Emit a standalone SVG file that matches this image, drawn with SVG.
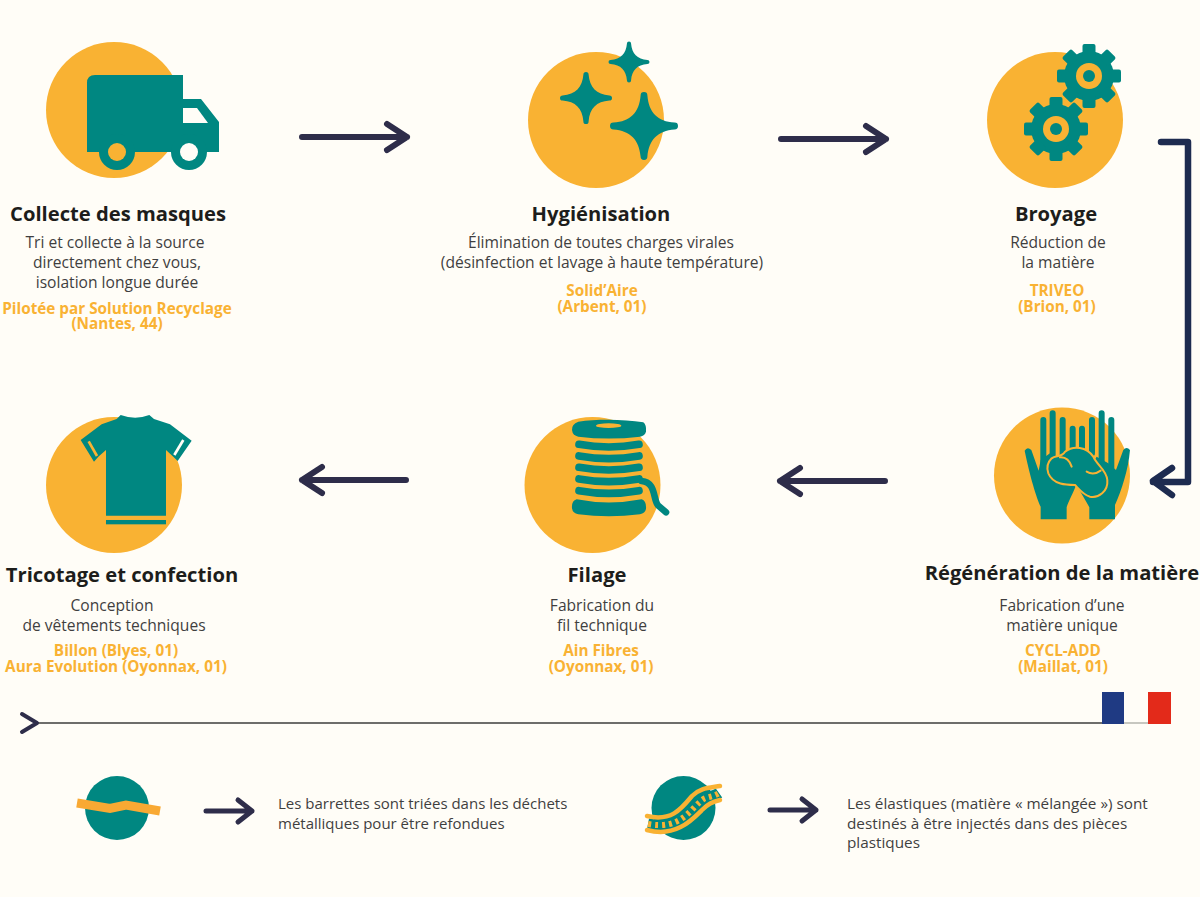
<svg xmlns="http://www.w3.org/2000/svg" xmlns:xlink="http://www.w3.org/1999/xlink" width="1200" height="897" viewBox="0 0 1200 897">
<style>
text{font-family:"Open Sans","Noto Sans","Liberation Sans",sans-serif;text-anchor:middle}
.t{font-size:20.200px;font-weight:700;fill:#1d1d1b}
.b{font-size:15.600px;fill:#3f3f3f}
.o{font-size:15.300px;font-weight:700;fill:#f9b233}
.n{font-size:15px;fill:#3f3f3f;text-anchor:start}
.m{font-size:15.300px;fill:#3f3f3f;text-anchor:start}
.c{fill:#f9b233}
.e{fill:#008781}
.a{fill:none;stroke:#2e2d4a;stroke-width:6;stroke-linecap:round;stroke-linejoin:round}
.a2{fill:none;stroke:#2e2d4a;stroke-width:5;stroke-linecap:round;stroke-linejoin:round}
</style>
<defs>
<path id="spark" class="e" d="M-10-90A10 10 0 0 1 10-90C14-40 40-14 90-10A10 10 0 0 1 90 10C40 14 14 40 10 90A10 10 0 0 1-10 90C-14 40-40 14-90 10A10 10 0 0 1-90-10C-40-14-14-40-10-90Z"/>
<g id="gear">
<circle class="e" r="25"/>
<g class="e">
<rect x="-6.500" y="-32" width="13" height="12" rx="2"/>
<rect x="-6.500" y="-32" width="13" height="12" rx="2" transform="rotate(45)"/>
<rect x="-6.500" y="-32" width="13" height="12" rx="2" transform="rotate(90)"/>
<rect x="-6.500" y="-32" width="13" height="12" rx="2" transform="rotate(135)"/>
<rect x="-6.500" y="-32" width="13" height="12" rx="2" transform="rotate(180)"/>
<rect x="-6.500" y="-32" width="13" height="12" rx="2" transform="rotate(225)"/>
<rect x="-6.500" y="-32" width="13" height="12" rx="2" transform="rotate(270)"/>
<rect x="-6.500" y="-32" width="13" height="12" rx="2" transform="rotate(315)"/>
</g>
<circle class="c" r="13"/>
<circle class="e" r="6"/>
</g>
<path id="coil" d="M207 0Q296 16 387 0" fill="none" stroke="#008781" stroke-width="23" stroke-linecap="round"/>
</defs>
<rect width="1200" height="897" fill="#fffdf7"/>

<g id="connectors">
<path class="a" d="M302 137H407M387 124L407 137L387 150"/>
<path class="a" d="M781 139H886M866 126L886 139L866 152"/>
<path d="M1161 142H1188V482H1153M1172 468L1153 481L1172 495" fill="none" stroke="#1d2b50" stroke-width="6.500" stroke-linecap="round" stroke-linejoin="round"/>
<path class="a" d="M885 481H780M800 468L780 481L800 494"/>
<path class="a" d="M406 480H302M322 467L302 480L322 493"/>
<path class="a2" d="M206 811H252M238 800L252 811L238 822"/>
<path class="a2" d="M770 810H816M802 799L816 810L802 821"/>
</g>

<g id="node-collecte">
<circle class="c" cx="114" cy="110" r="68"/>
<path class="e" d="M95 75H183V99H201L219 122V152H87V83Q87 75 95 75Z"/>
<path d="M183 108H197L208 123H183Z" fill="#fffdf7"/>
<circle class="e" cx="117" cy="152" r="18"/><circle class="c" cx="117" cy="152" r="9"/>
<circle class="e" cx="189" cy="152" r="18"/><circle cx="189" cy="152" r="9" fill="#fffdf7"/>
<text class="t" x="118" y="221">Collecte des masques</text>
<text class="b" x="115" y="248">Tri et collecte à la source</text>
<text class="b" x="117" y="268">directement chez vous,</text>
<text class="b" x="117" y="288">isolation longue durée</text>
<text class="o" x="117" y="314">Pilotée par Solution Recyclage</text>
<text class="o" x="117" y="329">(Nantes, 44)</text>
</g>

<g id="node-hygienisation">
<circle class="c" cx="596" cy="120" r="68"/>
<use xlink:href="#spark" href="#spark" transform="translate(629 62) scale(.205)"/>
<use xlink:href="#spark" href="#spark" transform="translate(586 98) scale(.26)"/>
<use xlink:href="#spark" href="#spark" transform="translate(644 126) scale(.34)"/>
<text class="t" x="601" y="221">Hygiénisation</text>
<text class="b" x="601" y="248">Élimination de toutes charges virales</text>
<text class="b" x="602" y="268">(désinfection et lavage à haute température)</text>
<text class="o" x="602" y="296">Solid’Aire</text>
<text class="o" x="602" y="312">(Arbent, 01)</text>
</g>

<g id="node-broyage">
<circle class="c" cx="1055" cy="120" r="68"/>
<use xlink:href="#gear" href="#gear" transform="translate(1089 76)"/>
<use xlink:href="#gear" href="#gear" transform="translate(1056 129)"/>
<text class="t" x="1056" y="221">Broyage</text>
<text class="b" x="1058" y="248">Réduction de</text>
<text class="b" x="1058" y="268">la matière</text>
<text class="o" x="1057" y="296">TRIVEO</text>
<text class="o" x="1057" y="312">(Brion, 01)</text>
</g>

<g id="node-regeneration">
<circle class="c" cx="1062" cy="475.500" r="68"/>
<g transform="translate(970 400) scale(.3333)">
<g fill="none" stroke="#008781" stroke-width="18" stroke-linecap="round">
<path d="M220 60V215M248 40V170M278 60V175M308 86V150M336 86V150M366 60V160M395 40V185M424 60V215"/>
</g>
<path class="e" d="M212 358V320C200 295 180 230 164 152Q172 138 184 150L206 212L212 180L240 160L320 250C310 280 295 305 290 322V358Z"/>
<path class="e" d="M358 358V322C345 300 335 280 322 262L380 170L415 190L438 210L460 150Q470 138 480 150C475 210 455 270 435 315V358Z"/>
<path class="e" stroke="#f9b233" stroke-width="6" d="M245 175C258 166 275 172 285 155C310 135 350 140 370 170C380 195 410 210 412 240C415 275 385 295 360 290C340 285 325 265 315 255C290 255 250 255 235 220C228 200 235 185 245 175Z"/>
<path d="M270 172Q295 170 305 200M350 215Q370 228 392 212" fill="none" stroke="#f9b233" stroke-width="6" stroke-linecap="round"/>
</g>
<text class="t" x="1062" y="580">Régénération de la matière</text>
<text class="b" x="1062" y="611">Fabrication d’une</text>
<text class="b" x="1062" y="631">matière unique</text>
<text class="o" x="1063" y="656">CYCL-ADD</text>
<text class="o" x="1063" y="672">(Maillat, 01)</text>
</g>

<g id="node-filage">
<circle class="c" cx="592.500" cy="485" r="68"/>
<g transform="translate(510 405) scale(.3333)">
<path class="e" d="M205 50C260 42 340 42 400 52Q410 60 408 80Q405 92 390 95Q296 106 205 95Q188 92 186 75Q184 58 205 50Z"/>
<ellipse class="c" cx="296" cy="62" rx="38" ry="7"/>
<use xlink:href="#coil" href="#coil" y="118"/>
<use xlink:href="#coil" href="#coil" y="153"/>
<use xlink:href="#coil" href="#coil" y="187"/>
<use xlink:href="#coil" href="#coil" y="222"/>
<use xlink:href="#coil" href="#coil" y="257"/>
<path class="e" d="M200 283Q296 302 395 283Q410 288 408 312Q405 325 390 328Q296 340 205 328Q188 325 186 310Q184 288 200 283Z"/>
<path d="M395 228C440 232 428 285 445 302L468 322" fill="none" stroke="#008781" stroke-width="20" stroke-linecap="round"/>
</g>
<text class="t" x="597" y="582">Filage</text>
<text class="b" x="602" y="611">Fabrication du</text>
<text class="b" x="602" y="631">fil technique</text>
<text class="o" x="601" y="656">Ain Fibres</text>
<text class="o" x="601" y="672">(Oyonnax, 01)</text>
</g>

<g id="node-tricotage">
<circle class="c" cx="114" cy="485" r="68"/>
<g transform="translate(30 405) scale(.3333)">
<path class="e" d="M272 30Q316 46 358 30L372 42L420 58L485 107L443 168L430 155L408 135V332H228V135L205 155L192 170L152 105L215 58L260 42Z"/>
<path d="M176 109L201 153" fill="none" stroke="#f9b233" stroke-width="8"/>
<path d="M460 105L433 150" fill="none" stroke="#fffdf7" stroke-width="8"/>
<rect class="e" x="228" y="345" width="180" height="13"/>
</g>
<text class="t" x="122" y="582">Tricotage et confection</text>
<text class="b" x="112" y="611">Conception</text>
<text class="b" x="114" y="631">de vêtements techniques</text>
<text class="o" x="116" y="656">Billon (Blyes, 01)</text>
<text class="o" x="116" y="672">Aura Evolution (Oyonnax, 01)</text>
</g>

<g id="timeline">
<path d="M36 723H1102" stroke="#3c3c3c" stroke-width="1.500" fill="none"/>
<path d="M1124 723H1148" stroke="#b5b5ae" stroke-width="1.500" fill="none"/>
<path d="M22 714L37 723L22 732" fill="none" stroke="#2e2d4a" stroke-width="4" stroke-linecap="round" stroke-linejoin="round"/>
<rect x="1102" y="692" width="22" height="32" fill="#1f3a83"/>
<rect x="1148" y="692" width="23" height="32" fill="#e32a1a"/>
</g>

<g id="note-barrettes">
<circle class="e" cx="117" cy="808" r="32"/>
<path d="M77 803L110 808.500L126 805L160 811" fill="none" stroke="#f9a933" stroke-width="9"/>
<text class="n" x="278" y="809">Les barrettes sont triées dans les déchets</text>
<text class="n" x="278" y="829">métalliques pour être refondues</text>
</g>

<g id="note-elastiques">
<circle class="e" cx="683.500" cy="808" r="32"/>
<path d="M648 824C680 830 690 810 700 802C705 796 712 798 719 793" fill="none" stroke="#008781" stroke-width="11"/>
<path d="M648 824C680 830 690 810 700 802C705 796 712 798 719 793" fill="none" stroke="#f9b233" stroke-width="6" stroke-dasharray="3 4"/>
<path d="M647 816C672 822 682 808 692 796C700 788 708 788 720 786M647 830C675 838 692 820 702 810C708 804 712 802 720 800" fill="none" stroke="#f9b233" stroke-width="4.500" stroke-linecap="round"/>
<text class="m" x="847" y="809">Les élastiques (matière « mélangée ») sont</text>
<text class="m" x="847" y="829">destinés à être injectés dans des pièces</text>
<text class="m" x="847" y="848">plastiques</text>
</g>
</svg>
